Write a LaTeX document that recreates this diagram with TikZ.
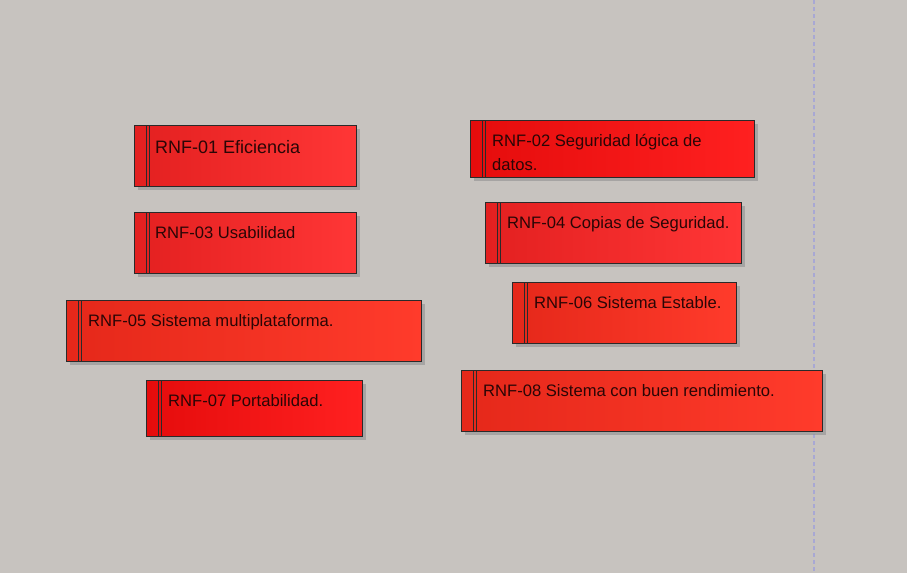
\documentclass[tikz,border=0pt]{standalone}
\usepackage{fontspec}
\setmainfont{Liberation Sans}
\definecolor{bg}{HTML}{C7C3BF}
\definecolor{guide}{HTML}{A8A8D4}
\definecolor{edge}{HTML}{2A2A2A}
\definecolor{txt}{HTML}{2A0606}
\definecolor{aL}{HTML}{E32020}\definecolor{aR}{HTML}{FF3636}
\definecolor{oL}{HTML}{E5281A}\definecolor{oR}{HTML}{FF3B2B}
\definecolor{pL}{HTML}{E50C0C}\definecolor{pR}{HTML}{FF2020}
\tikzset{
  req/.style={rectangle, anchor=north west, inner sep=0pt, draw=edge, line width=1pt},
  reqA/.style={req, left color=aL, right color=aR},
  reqO/.style={req, left color=oL, right color=oR},
  reqP/.style={req, left color=pL, right color=pR},
  shade box/.style={fill=black!45, opacity=0.55},
  sepline/.style={draw=edge, line width=0.9pt},
  label/.style={anchor=base west, inner sep=0pt, text=txt, font=\fontsize{16.6}{24}\selectfont},
  biglabel/.style={label, font=\fontsize{18}{22}\selectfont},
}
\newcommand{\reqbox}[6]{%
  % #1 name, #2 style, #3 x, #4 y, #5 w, #6 h
  \fill[shade box] (#3+4,#4+4) rectangle ++(#5,#6);
  \node[#2, minimum width=#5pt, minimum height=#6pt] (#1) at (#3,#4) {};
  \draw[sepline] ([xshift=12pt]#1.north west) -- ([xshift=12pt]#1.south west);
  \draw[sepline] ([xshift=15pt]#1.north west) -- ([xshift=15pt]#1.south west);
}
\begin{document}
\begin{tikzpicture}[x=1pt,y=-1pt]
\fill[bg] (0,0) rectangle (907,573);
\useasboundingbox (0,0) rectangle (907,573);
\coordinate (gtop) at (814,0);
\coordinate (gbot) at (814,573);
\draw[guide, line width=1.2pt, dash pattern=on 4pt off 3pt] (gtop) -- (gbot);

\reqbox{b1}{reqA}{134}{125}{222}{61}
\node[biglabel] (t1) at ([xshift=21pt,yshift=-28pt]b1.north west) {RNF-01 Eficiencia};

\reqbox{b2}{reqP}{470}{120}{284}{57}
\node[label] (t2) at ([xshift=22pt,yshift=-26pt]b2.north west) {\vtop{\hbox{RNF-02 Seguridad lógica de}\hbox{datos.}}};

\reqbox{b3}{reqA}{134}{212}{222}{61}
\node[label] (t3) at ([xshift=21pt,yshift=-26pt]b3.north west) {RNF-03 Usabilidad};

\reqbox{b4}{reqA}{485}{202}{256}{61}
\node[label] (t4) at ([xshift=22pt,yshift=-26pt]b4.north west) {RNF-04 Copias de Seguridad.};

\reqbox{b5}{reqO}{66}{300}{355}{61}
\node[label] (t5) at ([xshift=22pt,yshift=-26pt]b5.north west) {RNF-05 Sistema multiplataforma.};

\reqbox{b6}{reqO}{512}{282}{224}{61}
\node[label] (t6) at ([xshift=22pt,yshift=-26pt]b6.north west) {RNF-06 Sistema Estable.};

\reqbox{b7}{reqP}{146}{380}{216}{56}
\node[label] (t7) at ([xshift=22pt,yshift=-26pt]b7.north west) {RNF-07 Portabilidad.};

\reqbox{b8}{reqO}{461}{370}{361}{61}
\node[label] (t8) at ([xshift=22pt,yshift=-26pt]b8.north west) {RNF-08 Sistema con buen rendimiento.};
\end{tikzpicture}
\end{document}
